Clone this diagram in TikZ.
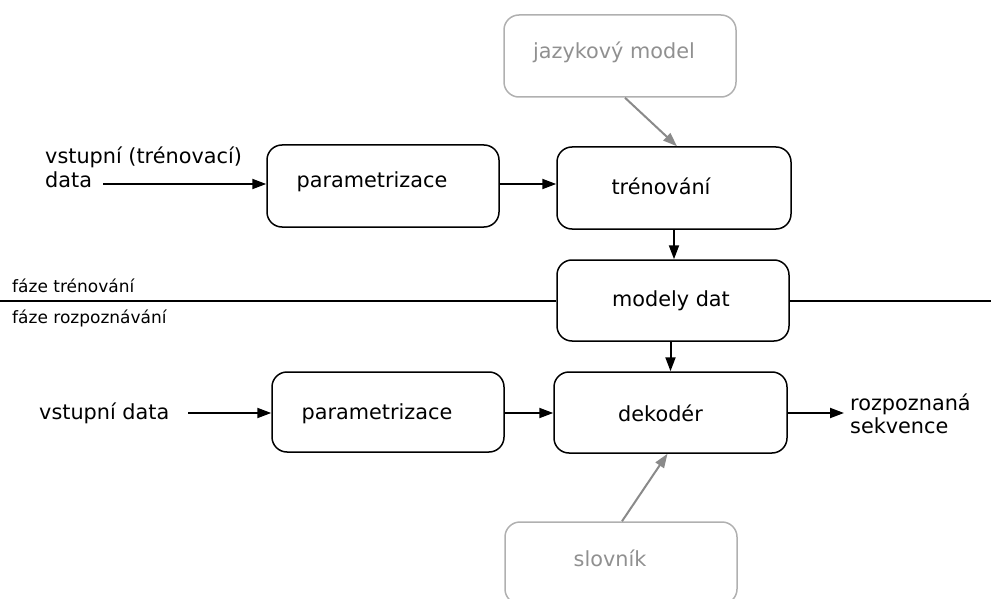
\documentclass[tikz,border=0pt]{standalone}
\usepackage{fontspec}
\setmainfont{DejaVu Sans}
\usetikzlibrary{arrows.meta}

\definecolor{softgray}{HTML}{B0B0B0}
\definecolor{arrowgray}{HTML}{8A8A8A}
\definecolor{labelgray}{HTML}{909090}

\tikzset{
  box/.style={draw=black, line width=1.5pt, rounded corners=15pt,
    rectangle, inner sep=0pt},
  greybox/.style={draw=softgray, line width=1.5pt, rounded corners=15pt,
    rectangle, inner sep=0pt},
  boxtext/.style={font=\fontsize{20.8}{24}\selectfont},
  greytext/.style={font=\fontsize{20.8}{24}\selectfont, text=labelgray},
  phase/.style={font=\fontsize{17}{20}\selectfont, anchor=west, inner sep=0pt},
  outer/.style={font=\fontsize{20.8}{23.5}\selectfont, align=left, inner sep=0pt},
  arr/.style={line width=2pt, -{Triangle[length=14pt,width=10pt]}},
  greyarr/.style={draw=arrowgray, line width=2pt,
    -{Triangle[length=14pt,width=10pt]}},
  divider/.style={line width=1.4pt}
}

\begin{document}
\begin{tikzpicture}[x=1pt, y=-1pt]
\useasboundingbox (0,0) rectangle (991,599);

% processing blocks
\node[box, minimum width=232pt, minimum height=82pt,
  label={[boxtext, xshift=-11pt, yshift=4pt]center:parametrizace}]
  (param1) at (383,186) {};
\node[box, minimum width=234pt, minimum height=82pt,
  label={[boxtext, xshift=-13pt, yshift=2pt]center:trénování}]
  (tren) at (674,188) {};
\node[box, minimum width=232pt, minimum height=81pt,
  label={[boxtext, xshift=-2pt, yshift=0pt]center:modely dat}]
  (models) at (673,300.5) {};
\node[box, minimum width=233pt, minimum height=81pt,
  label={[boxtext, xshift=-10pt, yshift=-1pt]center:dekodér}]
  (dec) at (670.5,412.5) {};
\node[box, minimum width=232pt, minimum height=80pt,
  label={[boxtext, xshift=-11pt, yshift=-2pt]center:parametrizace}]
  (param2) at (388,412) {};

% auxiliary resources
\node[greybox, minimum width=232pt, minimum height=82pt,
  label={[greytext, xshift=-6pt, yshift=4pt]center:jazykový model}]
  (lm) at (620,56) {};
\node[greybox, minimum width=232pt, minimum height=82pt,
  label={[greytext, xshift=-11pt, yshift=5pt]center:slovník}]
  (lex) at (621,563) {};

% outer inputs and output
\node[outer, anchor=north west] (trainin) at (45,147) {vstupní (trénovací)\\data};
\coordinate (trainstart) at (103,184);
\node[outer, anchor=west] (testin) at (39,413) {vstupní data};
\coordinate (teststart) at (188,413);
\node[outer, anchor=west] (result) at (850,414) {rozpoznaná\\sekvence};

% phase divider
\coordinate (leftend) at (0,301);
\coordinate (rightend) at (991,301);
\draw[divider] (leftend) -- (leftend -| models.west);
\draw[divider] (models.east |- rightend) -- (rightend);
\node[phase] (ph1) at (12,286) {fáze trénování};
\node[phase] (ph2) at (12,318) {fáze rozpoznávání};

% training flow
\draw[arr] (trainstart) -- (trainstart -| param1.west);
\draw[arr] (param1.east |- trainstart) -- (tren.west |- trainstart);
\draw[arr] (tren.south) -- (tren.south |- models.north);
\draw[greyarr] ([xshift=5pt]lm.south) -- ([xshift=3pt]tren.north);

% recognition flow
\draw[arr] (teststart) -- (teststart -| param2.west);
\draw[arr] (param2.east |- teststart) -- (dec.west |- teststart);
\draw[arr] (models.south -| dec.south) -- (dec.north);
\draw[arr] (dec.east |- teststart) -- ([xshift=-6pt]result.west |- teststart);
\draw[greyarr] ([xshift=1pt]lex.north) -- ([xshift=-3pt]dec.south);
\end{tikzpicture}
\end{document}
